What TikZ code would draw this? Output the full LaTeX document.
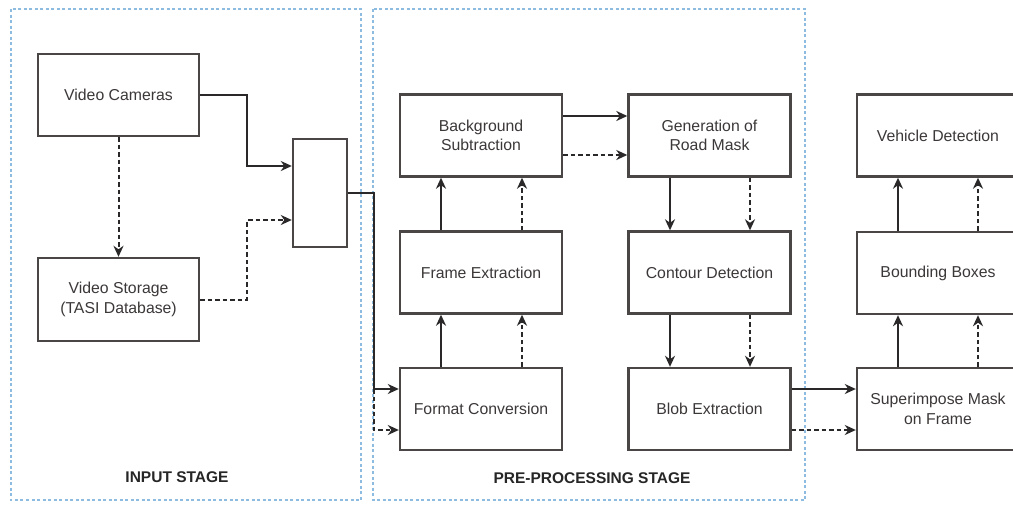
\documentclass[tikz,border=0pt]{standalone}
\usepackage{fontspec}
\setmainfont{Liberation Sans}
\usetikzlibrary{arrows.meta}
\definecolor{boxline}{HTML}{4A4646}
\definecolor{arrowline}{HTML}{2A2828}
\definecolor{labeltext}{HTML}{3C3838}
\definecolor{stageframe}{HTML}{8DBCE0}
\tikzset{
  block/.style={draw=boxline, line width=2.4pt, fill=white, minimum width=162pt,
    minimum height=82pt, inner sep=0pt, align=center, text=labeltext,
    font=\fontsize{15.8}{19.5}\selectfont},
  flow/.style={draw=arrowline, line width=2pt, -{Stealth[length=11pt,width=10pt,inset=3.5pt]}},
  flowdash/.style={flow, dash pattern=on 4.5pt off 3pt},
  stageframe/.style={draw=stageframe, line width=1.4pt, dash pattern=on 3pt off 2.5pt},
  stagelabel/.style={font=\bfseries\fontsize{15.5}{18}\selectfont, text=black!85}
}
\begin{document}
\begin{tikzpicture}[x=1pt,y=-1pt]
\useasboundingbox (0,0) rectangle (1013,504);
\clip (0,0) rectangle (1013,504);
\fill[white] (0,0) rectangle (1013,504);

% stage frames
\draw[stageframe] (11,9) rectangle (361,500);
\draw[stageframe] (373,9) rectangle (805,500);
\node[stagelabel] (inlabel) at (177,477) {INPUT STAGE};
\node[stagelabel] (prelabel) at (592,478) {PRE-PROCESSING STAGE};

% input stage
\node[block, minimum width=161pt] (cam) at (118.5,95) {Video Cameras};
\node[block, minimum width=161pt, minimum height=83pt] (stor) at (118.5,299.5) {Video Storage\\(TASI Database)};
\node[block, minimum width=54pt, minimum height=108pt] (merge) at (320,193) {};

% pre-processing stage
\node[block] (bs) at (481,135.5) {Background\\Subtraction};
\node[block] (grm) at (709.5,135.5) {Generation of\\Road Mask};
\node[block] (fe) at (481,272.5) {Frame Extraction};
\node[block] (cd) at (709.5,272.5) {Contour Detection};
\node[block] (fc) at (481,409) {Format Conversion};
\node[block] (blob) at (709.5,409) {Blob Extraction};

% detection column
\node[block] (vd) at (938,135.5) {Vehicle Detection};
\node[block] (bb) at (938,273) {Bounding Boxes};
\node[block] (sup) at (938,409) {Superimpose Mask\\on Frame};

% input connectors
\draw[flowdash] (cam.south) -- (stor.north);
\draw[flow] (cam.east) -- ++(47,0) |- ([yshift=27pt]merge.west);
\draw[flowdash] (stor.east) -- ++(47,0) |- ([yshift=-27pt]merge.west);
\coordinate (jn) at (374,389);
\draw[flow] (merge.east) -| (jn) -- ([yshift=20pt]fc.west);
\draw[flowdash] (jn) |- ([yshift=-21pt]fc.west);

% pre-processing connectors
\draw[flow] ([xshift=-40pt]fc.north) -- ([xshift=-40pt]fe.south);
\draw[flowdash] ([xshift=41pt]fc.north) -- ([xshift=41pt]fe.south);
\draw[flow] ([xshift=-40pt]fe.north) -- ([xshift=-40pt]bs.south);
\draw[flowdash] ([xshift=41pt]fe.north) -- ([xshift=41pt]bs.south);
\draw[flow] ([yshift=19.5pt]bs.east) -- ([yshift=19.5pt]grm.west);
\draw[flowdash] ([yshift=-19.5pt]bs.east) -- ([yshift=-19.5pt]grm.west);
\draw[flow] ([xshift=-39.5pt]grm.south) -- ([xshift=-39.5pt]cd.north);
\draw[flowdash] ([xshift=40.5pt]grm.south) -- ([xshift=40.5pt]cd.north);
\draw[flow] ([xshift=-39.5pt]cd.south) -- ([xshift=-39.5pt]blob.north);
\draw[flowdash] ([xshift=40.5pt]cd.south) -- ([xshift=40.5pt]blob.north);

% detection connectors
\draw[flow] ([yshift=20pt]blob.east) -- ([yshift=20pt]sup.west);
\draw[flowdash] ([yshift=-21pt]blob.east) -- ([yshift=-21pt]sup.west);
\draw[flow] ([xshift=-40pt]sup.north) -- ([xshift=-40pt]bb.south);
\draw[flowdash] ([xshift=40pt]sup.north) -- ([xshift=40pt]bb.south);
\draw[flow] ([xshift=-40pt]bb.north) -- ([xshift=-40pt]vd.south);
\draw[flowdash] ([xshift=40pt]bb.north) -- ([xshift=40pt]vd.south);
\end{tikzpicture}
\end{document}
